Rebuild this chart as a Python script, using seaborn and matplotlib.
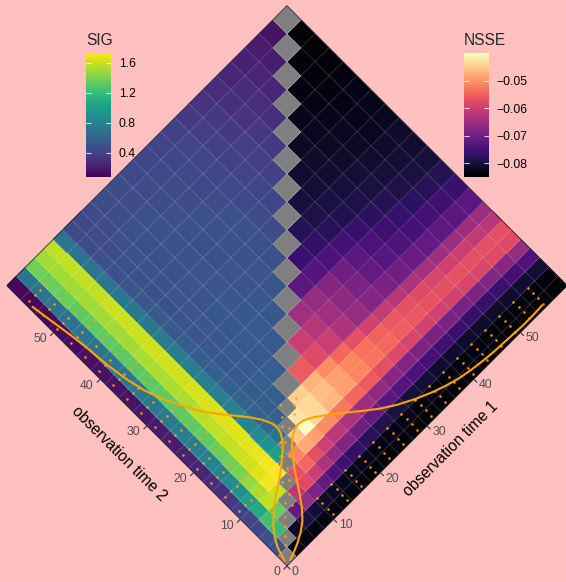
import numpy as np
import matplotlib.pyplot as plt
import seaborn as sns
from matplotlib.transforms import Affine2D

# ---------------------------------------------------------
# DATA
# ---------------------------------------------------------
# cell borders on both time axes (finer cells early on)
time_edges = [0, 2, 4, 6, 8, 10, 12, 14, 16, 18, 21, 24, 27, 30, 33, 36, 39, 42, 45, 48, 51, 54, 57, 60]

# SIG (time 2 > time 1): row k = time-1 cell, values for time-2 cells k+1 ...
sig_rows = [
    [0.49, 0.49, 0.44, 0.41, 0.38, 0.34, 0.31, 0.28, 0.25, 0.23, 0.21, 0.20, 0.18, 0.16, 0.16, 0.15, 0.15, 0.13, 0.13, 0.11, 0.11, 0.11],
    [1.20, 1.24, 1.07, 0.99, 0.91, 0.86, 0.82, 0.79, 0.77, 0.76, 0.74, 0.74, 0.74, 0.72, 0.72, 0.72, 0.72, 0.71, 0.71, 0.71, 0.71],
    [1.35, 1.57, 1.52, 1.47, 1.40, 1.37, 1.35, 1.33, 1.33, 1.32, 1.32, 1.32, 1.32, 1.32, 1.33, 1.33, 1.33, 1.35, 1.35, 1.37],
    [1.60, 1.70, 1.65, 1.61, 1.60, 1.58, 1.57, 1.55, 1.53, 1.53, 1.52, 1.52, 1.50, 1.50, 1.50, 1.50, 1.50, 1.50, 1.50],
    [1.73, 1.70, 1.68, 1.66, 1.65, 1.65, 1.63, 1.63, 1.61, 1.61, 1.61, 1.60, 1.60, 1.60, 1.58, 1.58, 1.57, 1.57],
    [0.99, 0.91, 0.86, 0.82, 0.81, 0.79, 0.77, 0.77, 0.76, 0.76, 0.74, 0.74, 0.74, 0.72, 0.72, 0.71, 0.71],
    [0.71, 0.64, 0.61, 0.59, 0.58, 0.58, 0.56, 0.56, 0.54, 0.54, 0.53, 0.51, 0.49, 0.48, 0.46, 0.44],
    [0.58, 0.56, 0.54, 0.54, 0.53, 0.53, 0.51, 0.51, 0.49, 0.49, 0.48, 0.48, 0.46, 0.46, 0.44],
    [0.58, 0.56, 0.54, 0.54, 0.53, 0.53, 0.51, 0.51, 0.49, 0.49, 0.48, 0.48, 0.46, 0.46],
    [0.56, 0.54, 0.54, 0.53, 0.53, 0.51, 0.51, 0.49, 0.49, 0.48, 0.48, 0.46, 0.46],
    [0.54, 0.54, 0.53, 0.53, 0.51, 0.51, 0.49, 0.49, 0.48, 0.48, 0.46, 0.46],
    [0.53, 0.53, 0.51, 0.51, 0.49, 0.49, 0.48, 0.48, 0.46, 0.46, 0.44],
    [0.51, 0.51, 0.49, 0.49, 0.48, 0.48, 0.46, 0.46, 0.44, 0.43],
    [0.49, 0.49, 0.48, 0.48, 0.46, 0.44, 0.44, 0.43, 0.41],
    [0.46, 0.46, 0.44, 0.44, 0.43, 0.41, 0.41, 0.39],
    [0.43, 0.43, 0.41, 0.39, 0.39, 0.38, 0.36],
    [0.39, 0.38, 0.38, 0.36, 0.34, 0.33],
    [0.36, 0.34, 0.33, 0.31, 0.29],
    [0.31, 0.29, 0.28, 0.26],
    [0.26, 0.25, 0.23],
    [0.21, 0.20],
    [0.16],
]

# NSSE (time 1 > time 2): row k = time-2 cell, values for time-1 cells k+1 ...
nsse_rows = [
    [-0.0841, -0.0837, -0.0837, -0.0837, -0.0841, -0.0841, -0.0841, -0.0841, -0.0841, -0.0846, -0.0846, -0.0846, -0.0846, -0.0846, -0.0850, -0.0850, -0.0850, -0.0850, -0.0850, -0.0850, -0.0850, -0.0850],
    [-0.0814, -0.0796, -0.0805, -0.0814, -0.0819, -0.0823, -0.0828, -0.0828, -0.0832, -0.0832, -0.0832, -0.0837, -0.0837, -0.0837, -0.0837, -0.0837, -0.0841, -0.0841, -0.0841, -0.0841, -0.0841],
    [-0.0715, -0.0661, -0.0688, -0.0715, -0.0738, -0.0756, -0.0769, -0.0778, -0.0787, -0.0796, -0.0801, -0.0805, -0.0810, -0.0810, -0.0814, -0.0814, -0.0814, -0.0814, -0.0810, -0.0805],
    [-0.0625, -0.0580, -0.0603, -0.0634, -0.0661, -0.0684, -0.0702, -0.0715, -0.0724, -0.0733, -0.0742, -0.0751, -0.0756, -0.0760, -0.0765, -0.0765, -0.0760, -0.0751, -0.0738],
    [-0.0571, -0.0544, -0.0571, -0.0598, -0.0620, -0.0639, -0.0652, -0.0666, -0.0675, -0.0684, -0.0688, -0.0693, -0.0693, -0.0693, -0.0688, -0.0684, -0.0675, -0.0661],
    [-0.0513, -0.0481, -0.0490, -0.0508, -0.0526, -0.0544, -0.0558, -0.0571, -0.0580, -0.0589, -0.0594, -0.0594, -0.0594, -0.0589, -0.0585, -0.0580, -0.0580],
    [-0.0454, -0.0400, -0.0436, -0.0468, -0.0490, -0.0513, -0.0531, -0.0544, -0.0553, -0.0562, -0.0567, -0.0571, -0.0571, -0.0571, -0.0571, -0.0571],
    [-0.0423, -0.0436, -0.0463, -0.0490, -0.0513, -0.0535, -0.0549, -0.0562, -0.0571, -0.0580, -0.0589, -0.0598, -0.0603, -0.0612, -0.0625],
    [-0.0445, -0.0472, -0.0508, -0.0544, -0.0571, -0.0594, -0.0612, -0.0625, -0.0634, -0.0643, -0.0648, -0.0652, -0.0652, -0.0652],
    [-0.0558, -0.0580, -0.0603, -0.0634, -0.0661, -0.0679, -0.0693, -0.0702, -0.0711, -0.0715, -0.0720, -0.0724, -0.0724],
    [-0.0603, -0.0625, -0.0648, -0.0670, -0.0693, -0.0715, -0.0729, -0.0738, -0.0747, -0.0751, -0.0756, -0.0760],
    [-0.0648, -0.0661, -0.0679, -0.0702, -0.0724, -0.0742, -0.0756, -0.0765, -0.0774, -0.0778, -0.0783],
    [-0.0724, -0.0733, -0.0742, -0.0751, -0.0765, -0.0774, -0.0783, -0.0792, -0.0796, -0.0801],
    [-0.0760, -0.0769, -0.0778, -0.0787, -0.0792, -0.0796, -0.0801, -0.0805, -0.0810],
    [-0.0783, -0.0792, -0.0796, -0.0801, -0.0805, -0.0810, -0.0814, -0.0814],
    [-0.0801, -0.0805, -0.0810, -0.0814, -0.0819, -0.0823, -0.0823],
    [-0.0810, -0.0814, -0.0819, -0.0823, -0.0828, -0.0828],
    [-0.0819, -0.0823, -0.0828, -0.0832, -0.0832],
    [-0.0828, -0.0832, -0.0837, -0.0837],
    [-0.0837, -0.0841, -0.0841],
    [-0.0841, -0.0846],
    [-0.0846],
]

# smooth orange curves (observation time 1, observation time 2)
left_t1 = [0.5, 1.0, 1.6, 2.0, 2.3, 2.8, 3.5, 4.5, 5.8, 7.2, 8.8, 10.5, 12.0, 13.0, 13.6, 13.8, 13.6, 13.0, 12.0,
           10.8, 9.4, 8.0, 6.6, 5.2, 3.9, 2.7, 1.7, 1.0, 0.5, 0.3]
left_t2 = [55.0, 51.5, 47.6, 44.0, 40.6, 37.3, 34.2, 31.3, 28.7, 26.0, 23.8, 21.7, 19.8, 18.3, 17.0, 16.0, 15.0, 14.0, 12.9,
           11.9, 10.8, 9.8, 8.9, 7.9, 6.8, 5.6, 4.3, 3.0, 1.5, 0.8]
right_t1 = [55.2, 53.0, 50.9, 49.0, 47.2, 45.0, 42.9, 40.6, 38.4, 36.3, 34.3, 31.7, 29.0, 26.8, 24.6, 22.4, 20.3, 18.6,
            17.4, 16.4, 15.5, 14.5, 13.4, 12.3, 11.2, 10.2, 9.1, 7.8, 6.4, 5.0, 3.5, 2.1, 1.0]
right_t2 = [0.6, 0.5, 0.5, 0.6, 0.7, 0.8, 1.0, 1.3, 1.7, 2.3, 3.0, 4.1, 5.5, 6.9, 8.6, 10.4, 12.0, 13.2,
            13.8, 14.0, 13.8, 13.3, 12.4, 11.0, 9.6, 8.1, 6.4, 4.6, 3.1, 2.1, 1.3, 0.7, 0.3]

# orange observation pairs: short lines of dots across the two outer bands
left_dot_t2 = [56, 53, 50, 47, 44, 41, 38, 35, 32, 29, 26, 23, 20, 17, 14, 11]
left_dot_t1 = [0.8, 2.0, 3.2, 4.4, 5.6]
right_dot_t1 = [55.5, 52.5, 49.5, 46.5, 43.5, 40.5, 37.5, 34.5, 31.5, 28.5, 25.5, 22.5, 19.5, 16.5, 13.5, 10.5]
right_dot_t2 = [0.7, 1.8, 2.9, 4.0]
centre_dot_t1 = [16, 15, 14.5, 17, 15.5, 13, 13.5, 12, 11, 10.5, 9.5, 8.5, 8, 6.5, 7, 5, 4, 3, 2, 18, 16.5, 19, 12.5, 14]
centre_dot_t2 = [14, 14.5, 15.5, 15.5, 16.5, 13.5, 12.5, 11.5, 12.5, 10.5, 9, 9.5, 7.5, 7, 6, 5.5, 4.5, 3.5, 2.5, 16.5, 18, 17, 14, 12]

tick_vals = [0, 10, 20, 30, 40, 50]
sig_ticks = [0.4, 0.8, 1.2, 1.6]
nsse_ticks = [-0.08, -0.07, -0.06, -0.05]
sig_lim = (0.08, 1.73)
nsse_lim = (-0.085, -0.040)

# ---------------------------------------------------------
# build matrices  [time-2 index, time-1 index]
# ---------------------------------------------------------
n = len(time_edges) - 1
sig = np.full((n, n), np.nan)
nsse = np.full((n, n), np.nan)
for k in range(n - 1):
    for off in range(n - 1 - k):
        m = k + 1 + off
        sig[m, k] = sig_rows[k][off]
        nsse[k, m] = nsse_rows[k][off]
diag = np.where(np.eye(n) > 0, 1.0, np.nan)

dot_t1 = [u for v in left_dot_t2 for u in left_dot_t1] + [u for u in right_dot_t1 for v in right_dot_t2] + centre_dot_t1
dot_t2 = [v for v in left_dot_t2 for u in left_dot_t1] + [v for u in right_dot_t1 for v in right_dot_t2] + centre_dot_t2

bg = "#ffc0c0"
sns.set_theme(style="white")
plt.rcParams['font.family'] = ['Liberation Sans', 'DejaVu Sans']

W, H = 566, 582
fig = plt.figure(figsize=(W / 100, H / 100), dpi=100, facecolor=bg)
ax = fig.add_axes([0, 0, 1, 1])
ax.set_facecolor(bg)
ax.axis("off")

p = 4.67                     # px per time unit along each screen axis
s = p * np.sqrt(2)           # px per unit of rotated frame
ox, oy = 287, 566            # pixel of the origin (bottom corner)
rot = Affine2D().rotate_deg(45) + ax.transData

viridis = sns.color_palette("viridis", as_cmap=True)
magma = sns.color_palette("magma", as_cmap=True)
gray = plt.matplotlib.colors.ListedColormap(["#7f7f7f"])

m1 = ax.pcolormesh(time_edges, time_edges, sig, cmap=viridis, vmin=sig_lim[0], vmax=sig_lim[1], transform=rot)
m2 = ax.pcolormesh(time_edges, time_edges, nsse, cmap=magma, vmin=nsse_lim[0], vmax=nsse_lim[1], transform=rot)
ax.pcolormesh(time_edges, time_edges, diag, cmap=gray, transform=rot)

# faint cell borders + panel outline
top = time_edges[-1]
ax.vlines(time_edges[1:-1], 0, top, colors=(1, 1, 1, 0.22), lw=0.5, transform=rot)
ax.hlines(time_edges[1:-1], 0, top, colors=(1, 1, 1, 0.22), lw=0.5, transform=rot)
ax.plot([0, top, top, 0, 0], [0, 0, top, top, 0], color="#333333", lw=0.6, transform=rot)

# dots and curves
sns.scatterplot(x=dot_t1, y=dot_t2, color="orange", s=3.5, linewidth=0, alpha=0.9, transform=rot, ax=ax)
sns.lineplot(x=left_t1, y=left_t2, sort=False, estimator=None, color="orange", lw=1.5, transform=rot, ax=ax)
sns.lineplot(x=right_t1, y=right_t2, sort=False, estimator=None, color="orange", lw=1.5, transform=rot, ax=ax)
ax.set_xlim(-ox / s, (W - ox) / s)
ax.set_ylim((oy - H) / s, oy / s)
ax.set_xlabel("")
ax.set_ylabel("")

# axis ticks / labels along the two lower edges
for t in tick_vals:
    ax.annotate("", xy=(t, 0), xycoords=rot, xytext=(2.2, -2.2), textcoords="offset points",
                arrowprops=dict(arrowstyle="-", color="#333333", lw=0.8, shrinkA=0, shrinkB=0))
    ax.annotate("", xy=(0, t), xycoords=rot, xytext=(-2.2, -2.2), textcoords="offset points",
                arrowprops=dict(arrowstyle="-", color="#333333", lw=0.8, shrinkA=0, shrinkB=0))
    ax.annotate(str(t), xy=(t, 0), xycoords=rot, xytext=(3.6, -4.3), textcoords="offset points",
                ha="left", va="center", fontsize=8.8, color="#4d4d4d")
    ax.annotate(str(t), xy=(0, t), xycoords=rot, xytext=(-4.6, -4.6), textcoords="offset points",
                ha="right", va="center", fontsize=8.8, color="#4d4d4d")

ax.annotate("observation time 1", xy=(30, 0), xycoords=rot, xytext=(16.8, -16.8), textcoords="offset points",
            rotation=45, ha="center", va="center", fontsize=11.2, color="black", rotation_mode="anchor")
ax.annotate("observation time 2", xy=(0, 30), xycoords=rot, xytext=(-19.9, -19.9), textcoords="offset points",
            rotation=-45, ha="center", va="center", fontsize=11.2, color="black", rotation_mode="anchor")

# colour bars
def colourbar(mappable, left, ticks, labels, title):
    cax = fig.add_axes([left / W, 1 - 177 / H, 25 / W, 124 / H])
    cb = fig.colorbar(mappable, cax=cax)
    cb.outline.set_visible(False)
    cb.set_ticks(ticks)
    cb.set_ticklabels(labels)
    cax.tick_params(length=0, pad=5.5, labelsize=8.8, labelcolor="black")
    cax.hlines(ticks, 0, 0.2, colors="white", lw=0.8, alpha=0.8)
    cax.hlines(ticks, 0.8, 1, colors="white", lw=0.8, alpha=0.8)
    fig.text(left / W, 1 - 45 / H, title, fontsize=11.2, ha="left", va="baseline")

colourbar(m1, 86, sig_ticks, [f"{t:.1f}" for t in sig_ticks], "SIG")
colourbar(m2, 464, nsse_ticks, [f"{t:.2f}".replace("-", "\u2212") for t in nsse_ticks], "NSSE")

fig.savefig("out.png", dpi=100, facecolor=bg)
